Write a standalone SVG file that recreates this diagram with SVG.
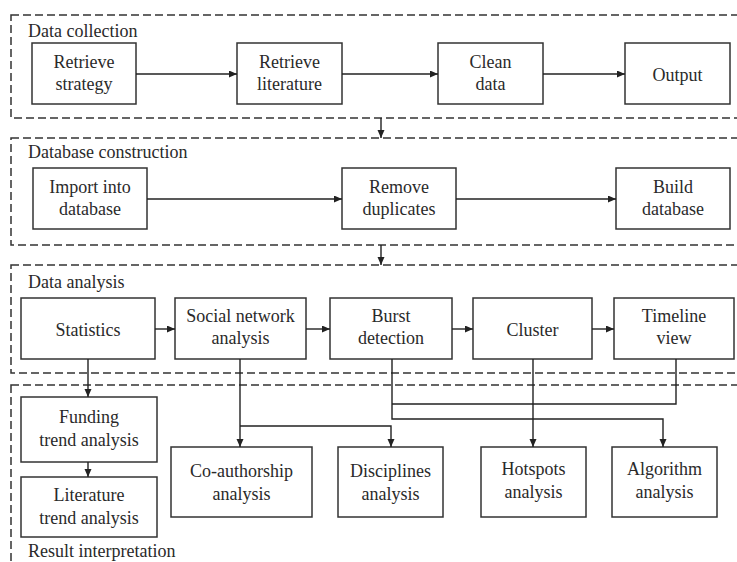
<svg xmlns="http://www.w3.org/2000/svg" width="737" height="562" viewBox="0 0 737 562" font-family="'Liberation Serif', 'DejaVu Serif', serif">
<style>
.sec{fill:none;stroke:#333;stroke-width:1.5;stroke-dasharray:8 4}
.node rect{fill:#fff;stroke:#333;stroke-width:1.5}
text{font-family:'Liberation Serif','DejaVu Serif',serif;font-size:18px;fill:#2a2a2a}
.node text{text-anchor:middle}
.conn path,.conn line{fill:none;stroke:#222;stroke-width:1.4}
</style>
<defs>
<marker id="ah" markerUnits="userSpaceOnUse" markerWidth="9" markerHeight="8" refX="8" refY="3.5" orient="auto">
<path d="M0,0 L8,3.5 L0,7 z" fill="#222"/>
</marker>
</defs>
<rect width="737" height="562" fill="#fff"/>

<g id="sections">
<rect class="sec" x="11" y="15" width="740" height="103"/>
<text x="28" y="37">Data collection</text>
<rect class="sec" x="11" y="138" width="740" height="107"/>
<text x="28" y="158">Database construction</text>
<rect class="sec" x="11" y="265" width="740" height="108"/>
<text x="28" y="288">Data analysis</text>
<rect class="sec" x="11" y="385" width="740" height="200"/>
<text x="28" y="557">Result interpretation</text>
</g>

<g id="n-retrieve-strategy" class="node"><rect x="32" y="43" width="104" height="61"/><text x="84" y="68">Retrieve</text><text x="84" y="90">strategy</text></g>
<g id="n-retrieve-literature" class="node"><rect x="237" y="43" width="105" height="61"/><text x="289.5" y="68">Retrieve</text><text x="289.5" y="90">literature</text></g>
<g id="n-clean-data" class="node"><rect x="438" y="43" width="105" height="61"/><text x="490.5" y="68">Clean</text><text x="490.5" y="90">data</text></g>
<g id="n-output" class="node"><rect x="625" y="43" width="105" height="61"/><text x="677.5" y="81">Output</text></g>

<g id="n-import" class="node"><rect x="33" y="168" width="114" height="61"/><text x="90" y="193">Import into</text><text x="90" y="215">database</text></g>
<g id="n-remove" class="node"><rect x="342" y="168" width="114" height="61"/><text x="399" y="193">Remove</text><text x="399" y="215">duplicates</text></g>
<g id="n-build" class="node"><rect x="616" y="168" width="114" height="61"/><text x="673" y="193">Build</text><text x="673" y="215">database</text></g>

<g id="n-statistics" class="node"><rect x="21" y="298" width="134" height="61"/><text x="88" y="336">Statistics</text></g>
<g id="n-social" class="node"><rect x="175" y="298" width="131" height="61"/><text x="240.5" y="322">Social network</text><text x="240.5" y="344">analysis</text></g>
<g id="n-burst" class="node"><rect x="330" y="298" width="122" height="61"/><text x="391" y="322">Burst</text><text x="391" y="344">detection</text></g>
<g id="n-cluster" class="node"><rect x="473" y="298" width="119" height="61"/><text x="532.5" y="336">Cluster</text></g>
<g id="n-timeline" class="node"><rect x="614" y="298" width="120" height="61"/><text x="674" y="322">Timeline</text><text x="674" y="344">view</text></g>

<g id="n-funding" class="node"><rect x="21" y="397" width="136" height="65"/><text x="89" y="423">Funding</text><text x="89" y="446">trend analysis</text></g>
<g id="n-literature" class="node"><rect x="21" y="477" width="136" height="60"/><text x="89" y="501">Literature</text><text x="89" y="524">trend analysis</text></g>
<g id="n-coauthor" class="node"><rect x="171" y="447" width="141" height="70"/><text x="241.5" y="477">Co-authorship</text><text x="241.5" y="500">analysis</text></g>
<g id="n-disciplines" class="node"><rect x="338" y="447" width="105" height="70"/><text x="390.5" y="477">Disciplines</text><text x="390.5" y="500">analysis</text></g>
<g id="n-hotspots" class="node"><rect x="481" y="447" width="105" height="70"/><text x="533.5" y="475">Hotspots</text><text x="533.5" y="498">analysis</text></g>
<g id="n-algorithm" class="node"><rect x="612" y="447" width="105" height="70"/><text x="664.5" y="475">Algorithm</text><text x="664.5" y="498">analysis</text></g>

<g id="connectors" class="conn">
<line x1="136" y1="74" x2="237" y2="74" marker-end="url(#ah)"/>
<line x1="342" y1="74" x2="438" y2="74" marker-end="url(#ah)"/>
<line x1="543" y1="74" x2="625" y2="74" marker-end="url(#ah)"/>
<line x1="381" y1="118" x2="381" y2="138" marker-end="url(#ah)"/>
<line x1="147" y1="199" x2="342" y2="199" marker-end="url(#ah)"/>
<line x1="456" y1="199" x2="616" y2="199" marker-end="url(#ah)"/>
<line x1="381" y1="245" x2="381" y2="265" marker-end="url(#ah)"/>
<line x1="155" y1="329" x2="175" y2="329" marker-end="url(#ah)"/>
<line x1="306" y1="329" x2="330" y2="329" marker-end="url(#ah)"/>
<line x1="452" y1="329" x2="473" y2="329" marker-end="url(#ah)"/>
<line x1="592" y1="329" x2="614" y2="329" marker-end="url(#ah)"/>
<line x1="88" y1="359" x2="88" y2="397" marker-end="url(#ah)"/>
<line x1="88" y1="462" x2="88" y2="477" marker-end="url(#ah)"/>
<line x1="240" y1="359" x2="240" y2="447" marker-end="url(#ah)"/>
<path d="M240,426 H391 V447" marker-end="url(#ah)"/>
<line x1="533" y1="359" x2="533" y2="447" marker-end="url(#ah)"/>
<path d="M392,359 V419 H663 V447" marker-end="url(#ah)"/>
<path d="M676,359 V404 H392"/>
</g>
</svg>
